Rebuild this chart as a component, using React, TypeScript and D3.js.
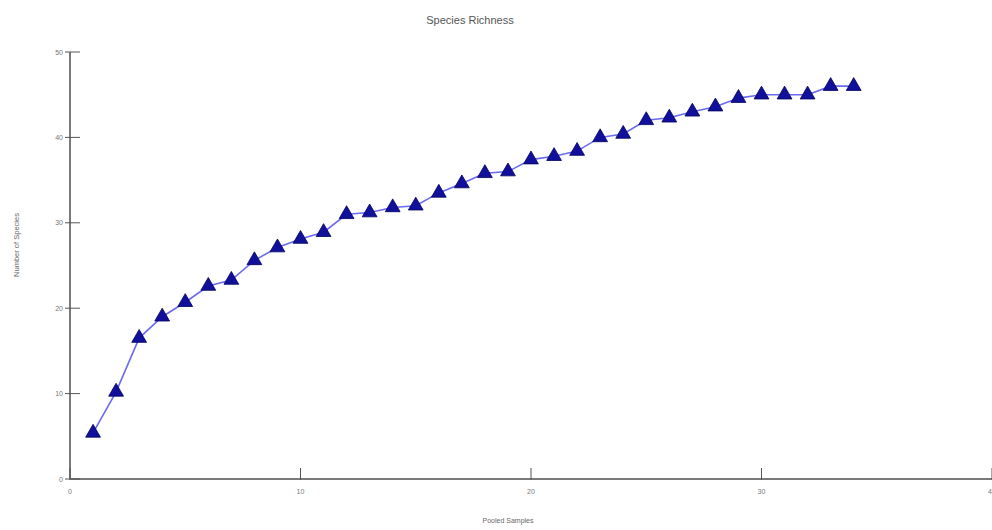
import React from "react";
import * as d3 from "d3";

const samples = [1,2,3,4,5,6,7,8,9,10,11,12,13,14,15,16,17,18,19,20,21,22,23,24,25,26,27,28,29,30,31,32,33,34];
const species = [5.4,10.2,16.5,19,20.7,22.6,23.3,25.6,27.1,28.1,28.9,31,31.2,31.8,32,33.5,34.6,35.8,36,37.4,37.8,38.4,40,40.4,42,42.3,43,43.6,44.6,45,45,45,46,46];
const xTicks = [0,10,20,30,40];
const yTicks = [0,10,20,30,40,50];

export default function App() {
  const W = 992, H = 530;
  const x = d3.scaleLinear().domain([0, 40]).range([70, 992]);
  const y = d3.scaleLinear().domain([0, 50]).range([479, 52]);
  const line = d3.line<number>().x((_, i) => x(samples[i])).y(d => y(d));
  const tri = d3.symbol().type(d3.symbolTriangle).size(95);
  const axisColor = "#7a7a7a";
  const font = "Arial, 'Liberation Sans', sans-serif";
  return (
    <svg width={W} height={H} style={{ position: "absolute", left: 0, top: 0, background: "#fff" }}>
      <text x={470} y={24} textAnchor="middle" fontFamily={font} fontSize={11} fill="#555">Species Richness</text>
      <text transform={`translate(19,245) rotate(-90)`} textAnchor="middle" fontFamily={font} fontSize={7.5} fill="#666">Number of Species</text>
      <text x={508} y={523} textAnchor="middle" fontFamily={font} fontSize={7} fill="#666">Pooled Samples</text>
      <line x1={x(0)} x2={x(0)} y1={y(50)} y2={y(0)} stroke={axisColor} strokeWidth={2} />
      <line x1={x(0)} x2={W} y1={y(0)} y2={y(0)} stroke={axisColor} strokeWidth={2} />
      {yTicks.map(t => (
        <g key={"y" + t}>
          <line x1={x(0) - 5} x2={x(0) + 10} y1={y(t)} y2={y(t)} stroke="#555" strokeWidth={1} />
          <text x={x(0) - 7} y={y(t) + 2.5} textAnchor="end" fontFamily={font} fontSize={7} fill="#777">{t}</text>
        </g>
      ))}
      {xTicks.map(t => (
        <g key={"x" + t}>
          <line x1={x(t)} x2={x(t)} y1={y(0) - 11} y2={y(0) + 1} stroke="#555" strokeWidth={1} />
          <text x={x(t)} y={y(0) + 15} textAnchor="middle" fontFamily={font} fontSize={7} fill="#777">{t}</text>
        </g>
      ))}
      <path d={line(species) || ""} fill="none" stroke="#6b6bef" strokeWidth={1.6} />
      {species.map((v, i) => (
        <path key={i} d={tri() || ""} transform={`translate(${x(samples[i])},${y(v)})`} fill="#10109a" stroke="#000060" strokeWidth={0.8} />
      ))}
    </svg>
  );
}
